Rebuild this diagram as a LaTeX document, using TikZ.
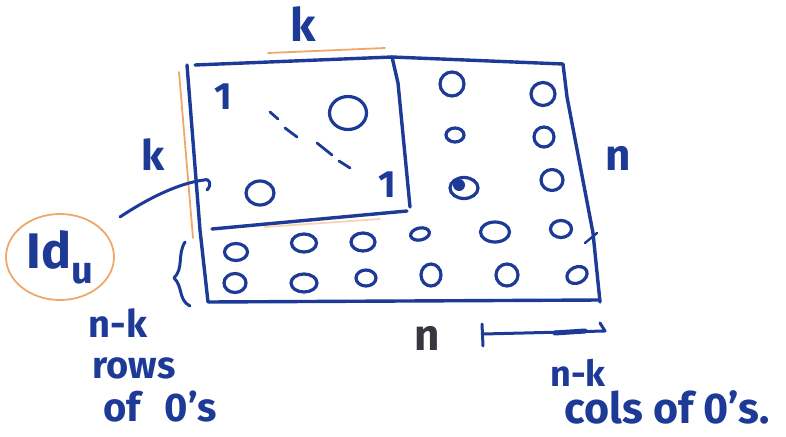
\documentclass[tikz,border=0pt]{standalone}
\usepackage{fontspec}
\setmainfont{Fira Sans}
\usetikzlibrary{shapes.geometric}
\definecolor{pen}{RGB}{28,58,150}
\definecolor{hl}{RGB}{240,168,105}
\definecolor{graypen}{RGB}{55,55,65}
\begin{document}
\begin{tikzpicture}[x=1pt,y=-1pt,
  ink/.style={draw=pen,line width=3.4pt,line cap=round,line join=round},
  hlline/.style={draw=hl,line width=1.8pt,line cap=round},
  zero/.style={ellipse,draw=pen,line width=3.2pt,inner sep=0pt},
  lbl/.style={text=pen,inner sep=0pt,font=\bfseries},
  fs/.style={font=\bfseries\fontsize{#1}{#1}\selectfont},
]
\useasboundingbox (0,0) rectangle (786,436);
% highlights
\draw[hlline] (268,53) -- (385,48);
\draw[hlline] (179,72) -- (193,238);
\draw[hlline,draw=hl!50] (265,227) -- (380,219);
% outer matrix
\draw[ink] (195,65) -- (392,57);
\draw[ink] (392,57) -- (563,64) -- (567,97) -- (593,233) -- (600,302);
\draw[ink] (187,65) -- (200,230) -- (208,302) -- (600,300);
\draw[ink,line width=2.4pt] (585,243) -- (597,233);
% inner block
\draw[ink] (392,57) -- (398,83) -- (410,207);
\draw[ink] (212,229) -- (407,211);
% diagonal dashes
\draw[ink,line width=2.8pt] (270,112) -- (278,119);
\draw[ink,line width=2.8pt] (285,128) -- (297,137);
\draw[ink,line width=2.8pt] (317,143) -- (332,155);
\draw[ink,line width=2.8pt] (339,161) -- (350,168);
% ones
\node[lbl,fs=38] (one1) at (223,97) {1};
\node[lbl,fs=38] (one2) at (387,185) {1};
% zeros in identity block
\node[zero,minimum width=37pt,minimum height=33pt] (zA) at (348,113) {};
\node[zero,minimum width=28pt,minimum height=24pt] (zB) at (260,193) {};
% upper right zeros
\node[zero,minimum width=24pt,minimum height=24pt] (z11) at (452,84) {};
\node[zero,minimum width=24pt,minimum height=23pt] (z12) at (543,94) {};
\node[zero,minimum width=18pt,minimum height=14pt] (z21) at (455,135) {};
\node[zero,minimum width=20pt,minimum height=20pt] (z22) at (544,137) {};
\node[zero,minimum width=28pt,minimum height=21pt] (z31) at (464,188) {};
\fill[pen] (459,185) circle (6pt);
\node[zero,minimum width=22pt,minimum height=21pt] (z32) at (552,180) {};
% lower rows
\node[zero,minimum width=23pt,minimum height=17pt] (r11) at (236,252) {};
\node[zero,minimum width=25pt,minimum height=18pt] (r12) at (304,243) {};
\node[zero,minimum width=24pt,minimum height=18pt] (r13) at (363,242) {};
\node[zero,minimum width=19pt,minimum height=12pt,rotate=12] (r14) at (420,234) {};
\node[zero,minimum width=29pt,minimum height=20pt] (r15) at (495,232) {};
\node[zero,minimum width=21pt,minimum height=17pt] (r16) at (561,229) {};
\node[zero,minimum width=22pt,minimum height=19pt] (r21) at (235,283) {};
\node[zero,minimum width=26pt,minimum height=18pt] (r22) at (304,283) {};
\node[zero,minimum width=20pt,minimum height=16pt] (r23) at (366,278) {};
\node[zero,minimum width=20pt,minimum height=22pt] (r24) at (431,275) {};
\node[zero,minimum width=22pt,minimum height=22pt] (r25) at (507,275) {};
\node[zero,minimum width=21pt,minimum height=16pt,rotate=25] (r26) at (577,275) {};
% labels
\node[lbl,fs=46] (ktop) at (303,24) {k};
\node[lbl,fs=42] (kleft) at (153,155) {k};
\node[lbl,fs=44] (nright) at (618,158) {n};
\node[lbl,text=graypen,fs=44] (nbot) at (427,338) {n};
% Id_u
\node[ellipse,draw=hl,line width=1.8pt,minimum width=108pt,minimum height=86pt,inner sep=0pt,text=pen,fs=50] (idu) at (60,257) {Id\raisebox{-0.3em}{\bfseries\fontsize{38}{38}\selectfont u}};
\coordinate (arrstart) at (120,217);
\coordinate (arrend) at (204,180);
\draw[ink,line width=3pt] (arrstart) .. controls (150,197) and (180,183) .. (arrend)
  .. controls (210,178) and (212,185) .. (207,190);
% brace
\draw[ink,line width=3pt] (185,242) .. controls (177,255) and (184,268) .. (174,278)
  .. controls (183,286) and (178,300) .. (190,306);
% bottom bracket
\coordinate (bl) at (483,334);
\coordinate (br) at (605,331);
\draw[ink,line width=3pt] (482,324) -- (483,346);
\draw[ink,line width=3pt] (bl) -- (br) -- (600,323);
\draw[ink,line width=5pt] (555,333) -- (585,331);
% bottom texts
\node[lbl,fs=38] (nk1) at (118,323) {n-k};
\node[lbl,fs=38] (rows) at (134,368) {rows};
\node[lbl,fs=40] (of0) at (160,407) {of\hspace{0.6em}0's};
\node[lbl,fs=36] (nk2) at (578,373) {n-k};
\node[lbl,fs=43] (cols) at (667,407) {cols of 0's.};
\end{tikzpicture}
\end{document}
